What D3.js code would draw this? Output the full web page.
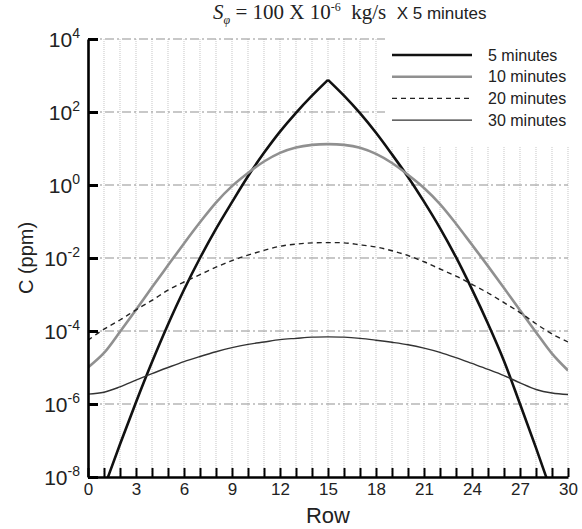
<!DOCTYPE html>
<html>
<head>
<meta charset="utf-8">
<script src="https://cdn.jsdelivr.net/npm/d3@7"></script>
<style>
  body { margin: 0; background: #fff; }
  svg { font-family: "Liberation Sans", Arial, sans-serif; }
</style>
</head>
<body>
<div id="chart"></div>
<script>
// rows 0..30
const rows = d3.range(0, 31);

const c5 = [3.2e-10, 5.0e-9, 7.9e-8, 1.12e-6, 1.41e-5, 1.51e-4, 1.35e-3, 1.0e-2, 6.3e-2, 0.34,
    1.74, 7.6, 29, 95, 280, 760, 280, 93, 27, 6.9,
    1.66, 0.35, 6.6e-2, 1.05e-2, 1.38e-3, 1.58e-4, 1.51e-5, 1.0e-6, 6.3e-8, 3.5e-9, 2.0e-10];
const c10 = [1.0e-5, 2.5e-5, 9.5e-5, 3.8e-4, 1.58e-3, 6.3e-3, 2.5e-2, 9.5e-2, 0.33, 0.93,
    2.14, 4.4, 7.6, 10.7, 12.6, 13.2, 12.6, 10.5, 7.1, 4.0,
    1.9, 0.83, 0.30, 8.7e-2, 2.3e-2, 6.0e-3, 1.5e-3, 3.7e-4, 9.3e-5, 2.4e-5, 8.3e-6];
const c20 = [5.6e-5, 1.12e-4, 2.0e-4, 3.8e-4, 6.9e-4, 1.32e-3, 2.2e-3, 3.5e-3, 5.6e-3, 8.5e-3,
    1.2e-2, 1.62e-2, 2.1e-2, 2.4e-2, 2.6e-2, 2.63e-2, 2.6e-2, 2.3e-2, 2.0e-2, 1.58e-2,
    1.17e-2, 7.9e-3, 5.0e-3, 3.2e-3, 1.9e-3, 1.1e-3, 6.0e-4, 3.2e-4, 1.58e-4, 8.3e-5, 5.0e-5];
const c30 = [1.86e-6, 2.1e-6, 2.95e-6, 4.5e-6, 6.8e-6, 1.0e-5, 1.45e-5, 2.0e-5, 2.7e-5, 3.5e-5,
    4.3e-5, 5.0e-5, 5.8e-5, 6.3e-5, 6.8e-5, 6.9e-5, 6.8e-5, 6.3e-5, 5.6e-5, 4.9e-5,
    4.2e-5, 3.4e-5, 2.6e-5, 1.86e-5, 1.29e-5, 8.9e-6, 6.0e-6, 3.8e-6, 2.5e-6, 2.0e-6, 1.82e-6];

const seriesNames = ['5 minutes', '10 minutes', '20 minutes', '30 minutes'];
const xTickLabels = [0, 3, 6, 9, 12, 15, 18, 21, 24, 27, 30];
const yTickExps = [4, 2, 0, -2, -4, -6, -8];

const width = 582, height = 529;
const margin = { top: 39, right: 14, bottom: 52, left: 88 };

const x = d3.scaleLinear().domain([0, 30]).range([margin.left, width - margin.right]);
const y = d3.scaleLog().domain([1e-8, 1e4]).range([height - margin.bottom, margin.top]);

const svg = d3.select('#chart').append('svg')
    .attr('width', width)
    .attr('height', height);

svg.append('rect').attr('width', width).attr('height', height).attr('fill', '#fff');

svg.append('defs').append('clipPath').attr('id', 'plot')
    .append('rect')
    .attr('x', x(0)).attr('y', y(1e4))
    .attr('width', x(30) - x(0)).attr('height', y(1e-8) - y(1e4));

// vertical dotted grid
svg.append('g')
    .selectAll('line')
    .data(d3.range(1, 31))
    .join('line')
    .attr('x1', d => x(d)).attr('x2', d => x(d))
    .attr('y1', y(1e4)).attr('y2', y(1e-8))
    .attr('stroke', '#d0d0d0')
    .attr('stroke-width', 1.2)
    .attr('stroke-dasharray', '1,1');

// horizontal dash-dot grid at even decades
svg.append('g')
    .selectAll('line')
    .data(yTickExps.filter(e => e > -8))
    .join('line')
    .attr('x1', x(0)).attr('x2', x(30))
    .attr('y1', d => y(Math.pow(10, d))).attr('y2', d => y(Math.pow(10, d)))
    .attr('stroke', '#929292')
    .attr('stroke-width', 1.2)
    .attr('stroke-dasharray', '9,3,2,3');

// legend background hides grid
svg.append('rect')
    .attr('x', 385).attr('y', margin.top - 2)
    .attr('width', width - 385).attr('height', 147 - margin.top + 2)
    .attr('fill', '#fff');

const styles = [
    { data: c5, stroke: '#111', width: 2.6, dash: null },
    { data: c10, stroke: '#909090', width: 2.6, dash: null },
    { data: c20, stroke: '#222', width: 1.4, dash: '5,4' },
    { data: c30, stroke: '#333', width: 1.4, dash: null }
];

const line = d3.line()
    .x(d => x(d[0]))
    .y(d => y(d[1]))
    .curve(d3.curveCatmullRom.alpha(0.5));

const curves = svg.append('g').attr('clip-path', 'url(#plot)');
styles.forEach((s, k) => {
    const pts = s.data.map((v, i) => [rows[i], v]);
    // the 5-minute profile has a sharp peak: draw each flank on its own
    const parts = k === 0 ? [pts.slice(0, 16), pts.slice(15)] : [pts];
    parts.forEach(p => {
        curves.append('path')
            .datum(p)
            .attr('d', line)
            .attr('fill', 'none')
            .attr('stroke', s.stroke)
            .attr('stroke-width', s.width)
            .attr('stroke-linejoin', 'round')
            .attr('stroke-dasharray', s.dash);
    });
});

// axes
const xAxis = d3.axisBottom(x)
    .tickValues(d3.range(0, 31))
    .tickSizeInner(-9)
    .tickSizeOuter(0)
    .tickPadding(6)
    .tickFormat(d => xTickLabels.includes(d) ? d : '');

const gx = svg.append('g')
    .attr('transform', `translate(0,${y(1e-8)})`)
    .call(xAxis);
gx.select('.domain').attr('stroke', '#000').attr('stroke-width', 2.6);
gx.selectAll('.tick line').attr('stroke', '#000').attr('stroke-width', 2);
gx.selectAll('.tick text').attr('font-size', 17).attr('fill', '#222')
    .attr('font-family', '"Liberation Sans", Arial, sans-serif');

const yAxis = d3.axisLeft(y)
    .tickValues(yTickExps.map(e => Math.pow(10, e)))
    .tickSizeInner(-10)
    .tickSizeOuter(0)
    .tickFormat('');

const gy = svg.append('g')
    .attr('transform', `translate(${x(0)},0)`)
    .call(yAxis);
gy.select('.domain').attr('stroke', '#000').attr('stroke-width', 2.6);
gy.selectAll('.tick line').attr('stroke', '#000').attr('stroke-width', 3);

// y tick labels 10^n
const yl = svg.append('g');
yTickExps.forEach(e => {
    const t = yl.append('text')
        .attr('x', 80)
        .attr('y', y(Math.pow(10, e)) + 8)
        .attr('text-anchor', 'end')
        .attr('fill', '#222')
        .attr('font-size', 21);
    t.append('tspan').text('10');
    t.append('tspan').attr('dy', -9).attr('font-size', 14).text(e);
});

// axis titles
svg.append('text')
    .attr('x', (x(0) + x(30)) / 2)
    .attr('y', 523)
    .attr('text-anchor', 'middle')
    .attr('font-size', 22)
    .attr('fill', '#222')
    .text('Row');

svg.append('text')
    .attr('transform', `translate(33,258) rotate(-90)`)
    .attr('text-anchor', 'middle')
    .attr('font-size', 20)
    .attr('fill', '#222')
    .text('C (ppm)');

// title
const title = svg.append('text')
    .attr('x', 213)
    .attr('y', 19)
    .attr('fill', '#222')
    .style('font-family', '"Liberation Serif", "Times New Roman", serif')
    .style('white-space', 'pre')
    .attr('font-size', 21);
title.append('tspan').attr('font-style', 'italic').text('S');
title.append('tspan').attr('font-style', 'italic').attr('font-size', 12).attr('dy', 5).text('φ');
title.append('tspan').attr('dy', -5).text(' = 100 X 10');
title.append('tspan').attr('font-size', 12).attr('dy', -8).text('-6');
title.append('tspan').attr('dy', 8).text('  kg/s  ');
title.append('tspan')
    .style('font-family', '"Liberation Sans", Arial, sans-serif')
    .attr('font-size', 17)
    .text('X 5 minutes');

// legend
const legend = svg.append('g');
styles.forEach((s, i) => {
    const ly = 55 + i * 21.7;
    legend.append('line')
        .attr('x1', 392).attr('x2', 472)
        .attr('y1', ly).attr('y2', ly)
        .attr('stroke', s.stroke)
        .attr('stroke-width', s.width)
        .attr('stroke-dasharray', s.dash);
    legend.append('text')
        .attr('x', 488).attr('y', ly + 5.5)
        .attr('font-size', 16)
        .attr('fill', '#222')
        .text(seriesNames[i]);
});
</script>
</body>
</html>
